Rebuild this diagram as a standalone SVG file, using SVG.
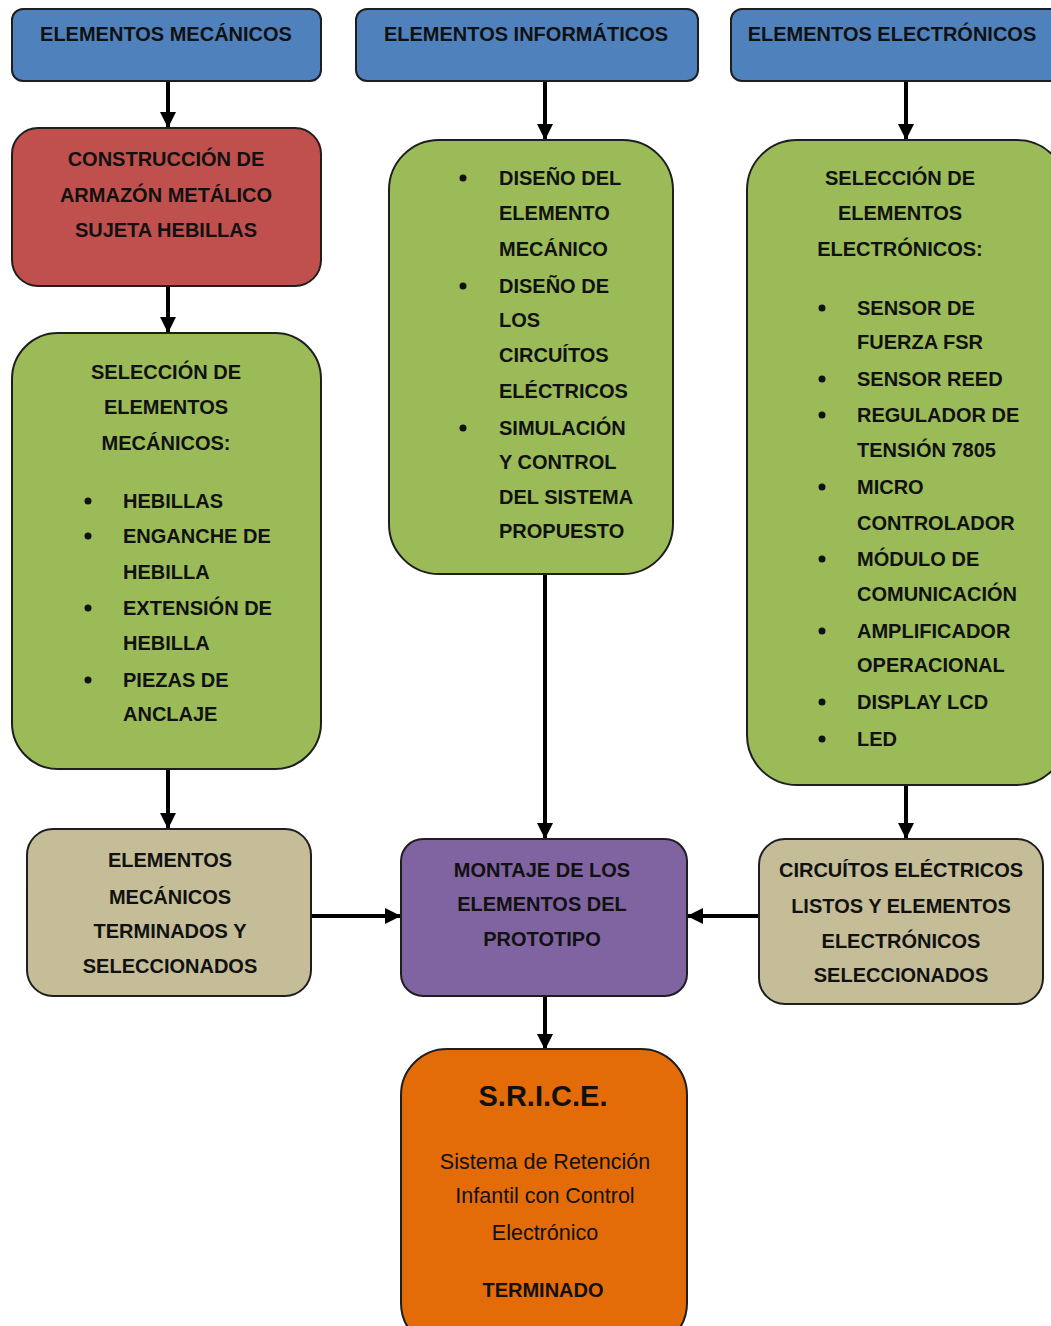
<svg xmlns="http://www.w3.org/2000/svg" width="1051" height="1326" viewBox="0 0 1051 1326">
<defs>
<marker id="ah" markerUnits="userSpaceOnUse" markerWidth="18" markerHeight="18" viewBox="0 0 18 18" refX="16" refY="9" orient="auto">
<path d="M0,1 L16,9 L0,17 Z" fill="#000"/>
</marker>
<style>
.box{stroke:#1e1e1e;stroke-width:2}
.blue{fill:#4f81bd}.red{fill:#c0504d}.green{fill:#9bbb59}.tan{fill:#c4bd97}.purple{fill:#8064a2}.orange{fill:#e36c09}
text{font-family:"Liberation Sans",Arial,sans-serif;font-weight:bold;font-size:20px;fill:#111}
.c{text-anchor:middle}
.reg{font-weight:normal;font-size:21.5px}
.big{font-size:29px}
.conn line{stroke:#000;stroke-width:4;marker-end:url(#ah)}
</style>
</defs>
<rect width="1051" height="1326" fill="#fff"/>
<g class="conn" id="connectors">
<line x1="168" y1="81" x2="168" y2="128"/>
<line x1="168" y1="286" x2="168" y2="333"/>
<line x1="168" y1="769" x2="168" y2="829"/>
<line x1="545" y1="81" x2="545" y2="140"/>
<line x1="545" y1="574" x2="545" y2="839"/>
<line x1="545" y1="996" x2="545" y2="1050"/>
<line x1="906" y1="81" x2="906" y2="140"/>
<line x1="906" y1="785" x2="906" y2="839"/>
<line x1="311" y1="916" x2="401" y2="916"/>
<line x1="759" y1="916" x2="687" y2="916"/>
</g>
<g id="n-mec">
<rect class="box blue" x="12" y="9" width="309" height="72" rx="11"/>
<text class="c" x="166" y="41">ELEMENTOS MECÁNICOS</text>
</g>
<g id="n-inf">
<rect class="box blue" x="356" y="9" width="342" height="72" rx="11"/>
<text class="c" x="526" y="41">ELEMENTOS INFORMÁTICOS</text>
</g>
<g id="n-ele">
<rect class="box blue" x="731" y="9" width="330" height="72" rx="11"/>
<text class="c" x="892" y="41">ELEMENTOS ELECTRÓNICOS</text>
</g>
<g id="n-armazon">
<rect class="box red" x="12" y="128" width="309" height="158" rx="26"/>
<text class="c" x="166" y="166">CONSTRUCCIÓN DE</text>
<text class="c" x="166" y="202">ARMAZÓN METÁLICO</text>
<text class="c" x="166" y="237">SUJETA HEBILLAS</text>
</g>
<g id="n-selmec">
<rect class="box green" x="12" y="333" width="309" height="436" rx="46"/>
<text class="c" x="166" y="379">SELECCIÓN DE</text>
<text class="c" x="166" y="414">ELEMENTOS</text>
<text class="c" x="166" y="450">MECÁNICOS:</text>
<g>
<circle cx="88" cy="501" r="3.5" fill="#111"/>
<circle cx="88" cy="536" r="3.5" fill="#111"/>
<circle cx="88" cy="608" r="3.5" fill="#111"/>
<circle cx="88" cy="680" r="3.5" fill="#111"/>
</g>
<text x="123" y="508">HEBILLAS</text>
<text x="123" y="543">ENGANCHE DE</text>
<text x="123" y="579">HEBILLA</text>
<text x="123" y="615">EXTENSIÓN DE</text>
<text x="123" y="650">HEBILLA</text>
<text x="123" y="687">PIEZAS DE</text>
<text x="123" y="721">ANCLAJE</text>
</g>
<g id="n-disenos">
<rect class="box green" x="389" y="140" width="284" height="434" rx="50"/>
<circle cx="463" cy="178" r="3.5" fill="#111"/>
<circle cx="463" cy="286" r="3.5" fill="#111"/>
<circle cx="463" cy="428" r="3.5" fill="#111"/>
<text x="499" y="185">DISEÑO DEL</text>
<text x="499" y="220">ELEMENTO</text>
<text x="499" y="256">MECÁNICO</text>
<text x="499" y="293">DISEÑO DE</text>
<text x="499" y="327">LOS</text>
<text x="499" y="362">CIRCUÍTOS</text>
<text x="499" y="398">ELÉCTRICOS</text>
<text x="499" y="435">SIMULACIÓN</text>
<text x="499" y="469">Y CONTROL</text>
<text x="499" y="504">DEL SISTEMA</text>
<text x="499" y="538">PROPUESTO</text>
</g>
<g id="n-selele">
<rect class="box green" x="747" y="140" width="320" height="645" rx="50"/>
<text class="c" x="900" y="185">SELECCIÓN DE</text>
<text class="c" x="900" y="220">ELEMENTOS</text>
<text class="c" x="900" y="256">ELECTRÓNICOS:</text>
<circle cx="822" cy="308" r="3.5" fill="#111"/>
<circle cx="822" cy="379" r="3.5" fill="#111"/>
<circle cx="822" cy="415" r="3.5" fill="#111"/>
<circle cx="822" cy="487" r="3.5" fill="#111"/>
<circle cx="822" cy="559" r="3.5" fill="#111"/>
<circle cx="822" cy="631" r="3.5" fill="#111"/>
<circle cx="822" cy="702" r="3.5" fill="#111"/>
<circle cx="822" cy="739" r="3.5" fill="#111"/>
<text x="857" y="315">SENSOR DE</text>
<text x="857" y="349">FUERZA FSR</text>
<text x="857" y="386">SENSOR REED</text>
<text x="857" y="422">REGULADOR DE</text>
<text x="857" y="457">TENSIÓN 7805</text>
<text x="857" y="494">MICRO</text>
<text x="857" y="530">CONTROLADOR</text>
<text x="857" y="566">MÓDULO DE</text>
<text x="857" y="601">COMUNICACIÓN</text>
<text x="857" y="638">AMPLIFICADOR</text>
<text x="857" y="672">OPERACIONAL</text>
<text x="857" y="709">DISPLAY LCD</text>
<text x="857" y="746">LED</text>
</g>
<g id="n-mecterm">
<rect class="box tan" x="27" y="829" width="284" height="167" rx="26"/>
<text class="c" x="170" y="867">ELEMENTOS</text>
<text class="c" x="170" y="904">MECÁNICOS</text>
<text class="c" x="170" y="938">TERMINADOS Y</text>
<text class="c" x="170" y="973">SELECCIONADOS</text>
</g>
<g id="n-montaje">
<rect class="box purple" x="401" y="839" width="286" height="157" rx="22"/>
<text class="c" x="542" y="877">MONTAJE DE LOS</text>
<text class="c" x="542" y="911">ELEMENTOS DEL</text>
<text class="c" x="542" y="946">PROTOTIPO</text>
</g>
<g id="n-circuitos">
<rect class="box tan" x="759" y="839" width="284" height="165" rx="26"/>
<text class="c" x="901" y="877">CIRCUÍTOS ELÉCTRICOS</text>
<text class="c" x="901" y="913">LISTOS Y ELEMENTOS</text>
<text class="c" x="901" y="948">ELECTRÓNICOS</text>
<text class="c" x="901" y="982">SELECCIONADOS</text>
</g>
<g id="n-srice">
<rect class="box orange" x="401" y="1049" width="286" height="300" rx="46"/>
<text class="c big" x="543" y="1106">S.R.I.C.E.</text>
<text class="c reg" x="545" y="1169">Sistema de Retención</text>
<text class="c reg" x="545" y="1203">Infantil con Control</text>
<text class="c reg" x="545" y="1240">Electrónico</text>
<text class="c" x="543" y="1297">TERMINADO</text>
</g>
</svg>
